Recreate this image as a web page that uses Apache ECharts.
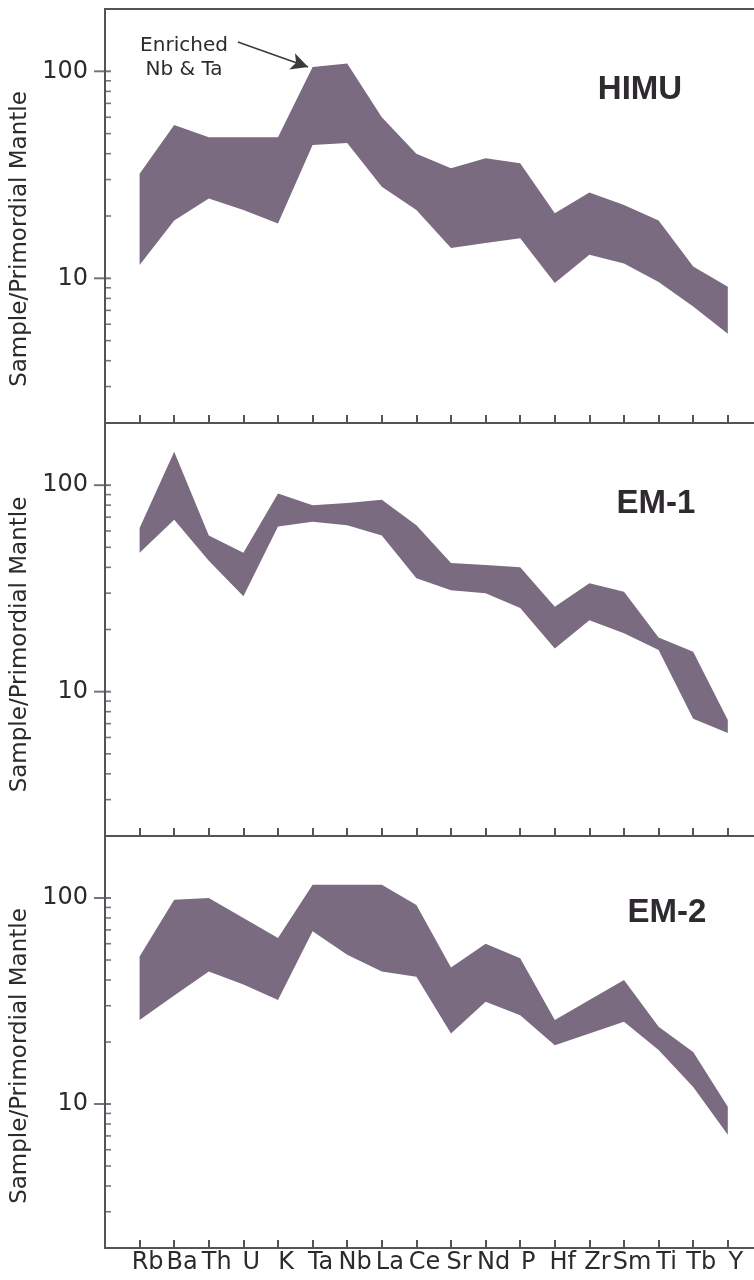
<!DOCTYPE html>
<html>
<head>
<meta charset="utf-8">
<script src="https://cdn.jsdelivr.net/npm/echarts@6/dist/echarts.min.js"></script>
<style>
html,body{margin:0;padding:0;background:#ffffff;}
#chart{width:754px;height:1280px;}
</style>
</head>
<body>
<div id="chart"></div>
<script>
// ---- data ----
const categories = ['Rb','Ba','Th','U','K','Ta','Nb','La','Ce','Sr','Nd','P','Hf','Zr','Sm','Ti','Tb','Y'];
const panelNames = ['HIMU','EM-1','EM-2'];
const himuUpper = [32, 55, 48, 48, 48, 105, 109, 60, 40, 34, 38, 36, 20.6, 26, 22.6, 19, 11.4, 9.1];
const himuLower = [11.6, 19, 24.3, 21.4, 18.4, 44, 45, 27.7, 21.4, 14, 14.8, 15.6, 9.5, 13, 11.8, 9.6, 7.3, 5.4];
const em1Upper = [62, 145, 57, 47, 91, 80, 82, 85, 64, 42, 41, 40, 25.8, 33.5, 30.5, 18.3, 15.6, 7.3];
const em1Lower = [47, 68, 43, 29, 63, 66.5, 64, 57, 35.4, 31, 30, 25.4, 16.2, 22.2, 19.2, 15.9, 7.4, 6.3];
const em2Upper = [52, 98, 100, 80, 64, 116, 116, 116, 92.5, 46, 60, 51, 25.6, 32, 40, 23.7, 17.9, 9.7];
const em2Lower = [25.6, 33.6, 44, 38, 32, 69, 53, 44, 41.5, 22, 31.4, 27, 19.3, 22, 25.1, 18.3, 12.1, 7.1];
const majorTicks = [10, 100];
const minorTicks = [3, 4, 5, 6, 7, 8, 9, 20, 30, 40, 50, 60, 70, 80, 90];
const annotationText = 'Enriched\nNb & Ta';
const annotationArrow = [[2.84, 138.6], [4.87, 104.9]];
const yTitle = 'Sample/Primordial Mantle';

// ---- styling ----
const bandColor = '#7a6b80';
const axisColor = '#57515a';
const textColor = '#2c2a2c';
const regFont = 'DejaVu Sans';
const boldFont = 'Liberation Sans';
const X_MIN = -1, X_MAX = 18;

const uppers = [himuUpper, em1Upper, em2Upper];
const lowers = [himuLower, em1Lower, em2Lower];
const gridTops = [9, 423, 836];
const gridHeights = [414, 413, 412];
const titleShift = [46, 30, 28];
const nameCenters = [[640, 90], [656, 503.5], [667, 913]];

const chart = echarts.init(document.getElementById('chart'), null, {renderer: 'canvas'});

const grid = [], xAxis = [], yAxis = [], series = [], graphic = [];

for (let p = 0; p < 3; p++) {
  grid.push({
    left: 105, top: gridTops[p], width: 657.4, height: gridHeights[p],
    containLabel: false, outerBoundsMode: 'none',
    show: true, borderColor: axisColor, borderWidth: 2, backgroundColor: 'transparent'
  });
  xAxis.push({
    type: 'value', gridIndex: p, min: X_MIN, max: X_MAX, interval: 1,
    axisLine: {show: true, onZero: false, lineStyle: {color: axisColor, width: 2}},
    axisTick: {show: true, inside: true, length: 8, lineStyle: {color: axisColor, width: 2}},
    splitLine: {show: false},
    axisLabel: {
      show: p === 2, margin: 3, color: textColor, fontFamily: regFont, fontSize: 24,
      padding: [0, 0, 0, 16], hideOverlap: false,
      formatter: function (v) { const i = Math.round(v); return (i >= 0 && i < categories.length) ? categories[i] : ''; }
    }
  });
  yAxis.push({
    type: 'log', logBase: 10, gridIndex: p, min: 2, max: 200,
    axisLine: {show: true, onZero: false, lineStyle: {color: axisColor, width: 2}},
    axisTick: {show: false},
    splitLine: {show: false},
    minorTick: {show: false},
    axisLabel: {
      show: true, margin: 17, color: textColor, fontFamily: regFont, fontSize: 24,
      formatter: function (v) {
        if (Math.abs(v - 10) < 1e-6) return '10';
        if (Math.abs(v - 100) < 1e-6) return '100';
        return '';
      }
    },
    name: yTitle, nameLocation: 'middle', nameGap: 67,
    nameTextStyle: {color: textColor, fontFamily: regFont, fontSize: 23, padding: [0, titleShift[p], 0, 0]}
  });

  const up = uppers[p], lo = lowers[p];
  const band = {
    type: 'custom', xAxisIndex: p, yAxisIndex: p, clip: false, silent: true, z: 3,
    data: categories.map((c, i) => [i, up[i], lo[i]]),
    encode: {x: 0, y: [1, 2]},
    renderItem: function (params, api) {
      if (params.dataIndex !== 0) return null;
      const pts = [];
      for (let i = 0; i < up.length; i++) pts.push(api.coord([i, up[i]]));
      for (let i = lo.length - 1; i >= 0; i--) pts.push(api.coord([i, lo[i]]));
      return {type: 'polygon', shape: {points: pts}, style: {fill: bandColor}};
    }
  };
  if (p === 0) {
    band.markLine = {
      silent: true, animation: false,
      symbol: ['none', 'arrow'], symbolSize: [13, 17],
      label: {show: false},
      lineStyle: {color: '#3a3a3a', width: 1.5, type: 'solid'},
      data: [[{coord: annotationArrow[0]}, {coord: annotationArrow[1]}]]
    };
  }
  series.push(band);

  series.push({
    type: 'scatter', xAxisIndex: p, yAxisIndex: p, clip: false, silent: true, z: 5,
    symbol: 'rect', symbolSize: [17, 2], symbolOffset: [-2.5, 0],
    itemStyle: {color: axisColor},
    data: majorTicks.map(v => [X_MIN, v])
  });
  series.push({
    type: 'scatter', xAxisIndex: p, yAxisIndex: p, clip: false, silent: true, z: 5,
    symbol: 'rect', symbolSize: [6, 1.6], symbolOffset: [3, 0],
    itemStyle: {color: axisColor},
    data: minorTicks.map(v => [X_MIN, v])
  });

  graphic.push({
    type: 'text', x: nameCenters[p][0], y: nameCenters[p][1], silent: true,
    style: {text: panelNames[p], fill: '#2f2a30', font: 'bold 33px "' + boldFont + '"', align: 'center', verticalAlign: 'middle'}
  });
}

graphic.push({
  type: 'text', x: 184, y: 58, silent: true,
  style: {text: annotationText, fill: textColor, font: '20px "' + regFont + '"', lineHeight: 24, align: 'center', verticalAlign: 'middle'}
});

chart.setOption({
  backgroundColor: '#ffffff',
  animation: false,
  grid: grid,
  xAxis: xAxis,
  yAxis: yAxis,
  series: series,
  graphic: graphic
});
</script>
</body>
</html>
